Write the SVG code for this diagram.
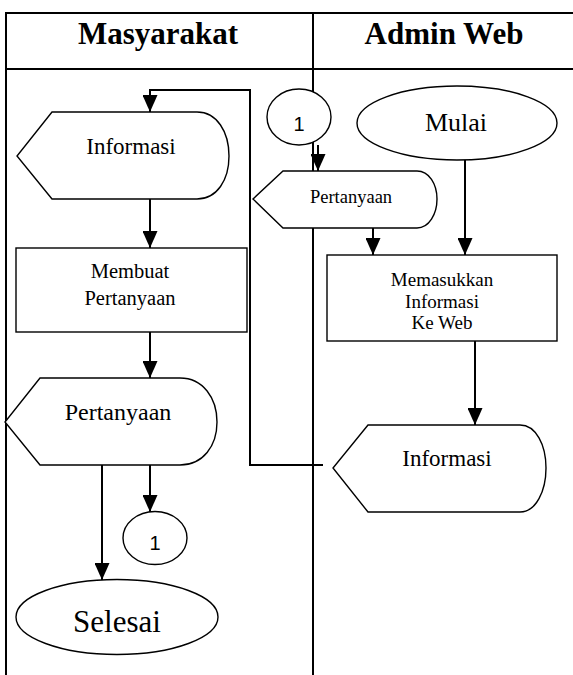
<svg xmlns="http://www.w3.org/2000/svg" width="573" height="675" viewBox="0 0 573 675">
<style>
.frame{stroke:#000;stroke-width:2;fill:none}
.shape{fill:#fff;stroke:#000;stroke-width:1.4}
.conn{fill:none;stroke:#000;stroke-width:2}
text{fill:#000;text-anchor:middle}
.t{font-family:"Liberation Serif","Times New Roman",serif}
.h{font-family:"Liberation Serif","Times New Roman",serif;font-weight:bold;font-size:31px}
.n{font-family:"Liberation Sans",Arial,sans-serif;font-size:20px}
</style>
<defs>
<marker id="ah" markerUnits="userSpaceOnUse" markerWidth="17" markerHeight="15" refX="17" refY="7.5" orient="auto">
<path d="M0,0 L17,7.5 L0,15 Z" fill="#000"/>
</marker>
</defs>
<rect width="573" height="675" fill="#fff"/>
<g id="table">
<line class="frame" x1="6" y1="13" x2="573" y2="13"/>
<line class="frame" x1="6" y1="69" x2="573" y2="69"/>
<line class="frame" x1="6" y1="12" x2="6" y2="675"/>
<line class="frame" x1="313" y1="13" x2="313" y2="675"/>
<text class="h" x="158" y="44">Masyarakat</text>
<text class="h" x="444" y="44">Admin Web</text>
</g>
<g id="connectors">
<polyline class="conn" points="323,465 250,465 250,90 150,90 150,112" marker-end="url(#ah)"/>
<line class="conn" x1="150" y1="199" x2="150" y2="248" marker-end="url(#ah)"/>
<line class="conn" x1="150" y1="332" x2="150" y2="378" marker-end="url(#ah)"/>
<line class="conn" x1="150" y1="465" x2="150" y2="512" marker-end="url(#ah)"/>
<line class="conn" x1="102" y1="465" x2="102" y2="580" marker-end="url(#ah)"/>
<line class="conn" x1="318" y1="145" x2="318" y2="171" marker-end="url(#ah)"/>
<line class="conn" x1="373" y1="228" x2="373" y2="255" marker-end="url(#ah)"/>
<line class="conn" x1="465" y1="160" x2="465" y2="255" marker-end="url(#ah)"/>
<line class="conn" x1="475" y1="341" x2="475" y2="425" marker-end="url(#ah)"/>
</g>
<g id="informasi-masyarakat">
<path class="shape" d="M52,112 L197,112 C217,112 229,132 229,156 C229,180 217,199 197,199 L52,199 L17,156 Z"/>
<text class="t" x="131" y="154" font-size="23">Informasi</text>
</g>
<g id="membuat-pertanyaan">
<rect class="shape" x="16" y="248" width="231" height="84"/>
<text class="t" x="130" y="278" font-size="20.5">Membuat</text>
<text class="t" x="130" y="305" font-size="20.5">Pertanyaan</text>
</g>
<g id="pertanyaan-masyarakat">
<path class="shape" d="M40,378 L180,378 C203,378 217,398 217,422 C217,446 203,465 180,465 L40,465 L5,422 Z"/>
<text class="t" x="118" y="420" font-size="24">Pertanyaan</text>
</g>
<g id="konektor-1-bawah">
<ellipse class="shape" cx="155" cy="538" rx="32" ry="26.5"/>
<text class="n" x="155" y="550">1</text>
</g>
<g id="selesai">
<ellipse class="shape" cx="117" cy="617" rx="101" ry="37.5"/>
<text class="t" x="117" y="632" font-size="31">Selesai</text>
</g>
<g id="konektor-1-atas">
<ellipse class="shape" cx="299" cy="117" rx="32" ry="28"/>
<text class="n" x="299" y="131">1</text>
</g>
<g id="mulai">
<ellipse class="shape" cx="457" cy="123" rx="100" ry="37"/>
<text class="t" x="456" y="131" font-size="26">Mulai</text>
</g>
<g id="pertanyaan-admin">
<path class="shape" d="M283,171 L417,171 C429,171 437,184 437,199 C437,214 429,228 417,228 L283,228 L253,199 Z"/>
<text class="t" x="351" y="203" font-size="18.5">Pertanyaan</text>
</g>
<g id="memasukkan-informasi">
<rect class="shape" x="327" y="255" width="230" height="86"/>
<text class="t" x="442" y="286" font-size="19">Memasukkan</text>
<text class="t" x="442" y="308" font-size="19">Informasi</text>
<text class="t" x="442" y="329" font-size="19">Ke Web</text>
</g>
<g id="informasi-admin">
<path class="shape" d="M368,425 L520,425 C536,425 546,445 546,468 C546,491 536,512 520,512 L368,512 L333,468 Z"/>
<text class="t" x="447" y="466" font-size="23">Informasi</text>
</g>
</svg>
